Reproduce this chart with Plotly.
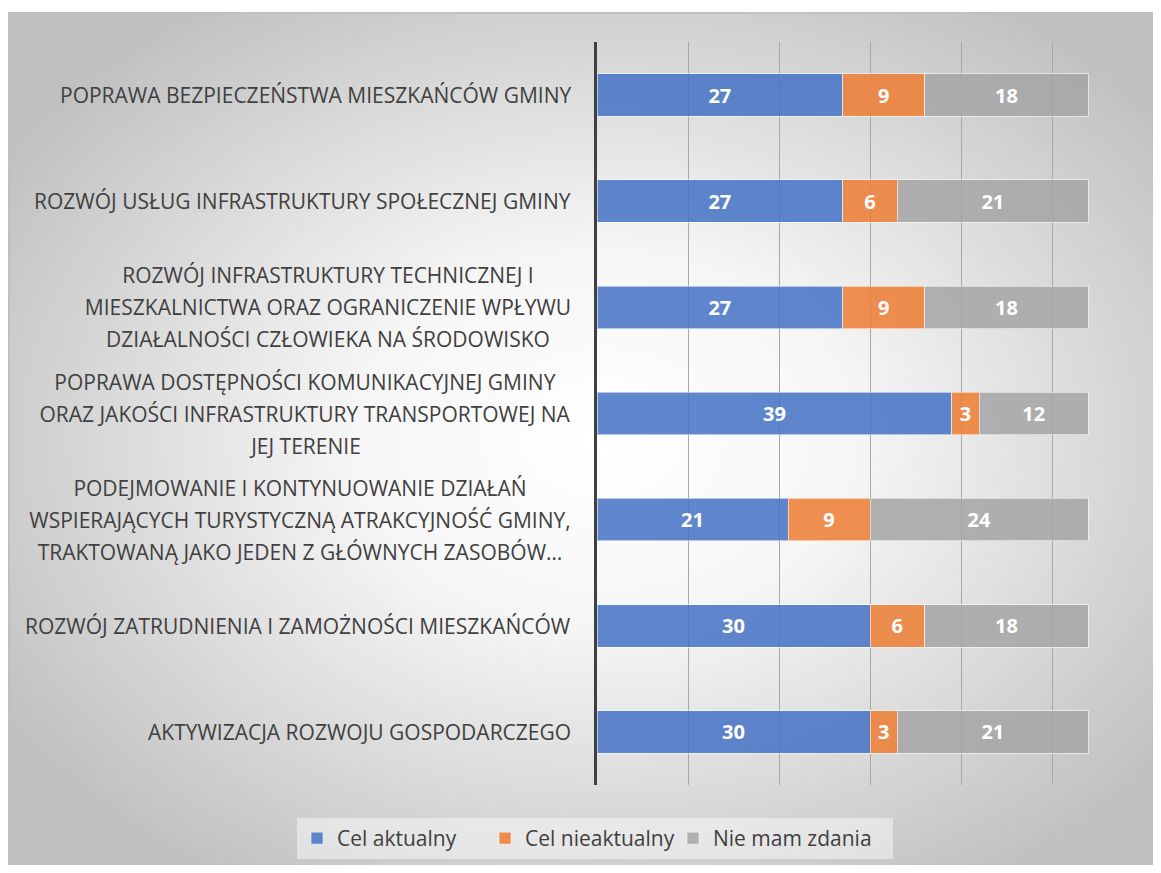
import base64
import plotly.graph_objects as go

categories = [
    "POPRAWA BEZPIECZEŃSTWA MIESZKAŃCÓW GMINY",
    "ROZWÓJ USŁUG INFRASTRUKTURY SPOŁECZNEJ GMINY",
    "ROZWÓJ INFRASTRUKTURY TECHNICZNEJ I<br>MIESZKALNICTWA ORAZ OGRANICZENIE WPŁYWU<br>DZIAŁALNOŚCI CZŁOWIEKA NA ŚRODOWISKO",
    "POPRAWA DOSTĘPNOŚCI KOMUNIKACYJNEJ GMINY<br>ORAZ JAKOŚCI INFRASTRUKTURY TRANSPORTOWEJ NA<br>JEJ TERENIE",
    "PODEJMOWANIE I KONTYNUOWANIE DZIAŁAŃ<br>WSPIERAJĄCYCH TURYSTYCZNĄ ATRAKCYJNOŚĆ GMINY,<br>TRAKTOWANĄ JAKO JEDEN Z GŁÓWNYCH ZASOBÓW…",
    "ROZWÓJ ZATRUDNIENIA I ZAMOŻNOŚCI MIESZKAŃCÓW",
    "AKTYWIZACJA ROZWOJU GOSPODARCZEGO",
]
series_names = ["Cel aktualny", "Cel nieaktualny", "Nie mam zdania"]
cel_aktualny = [27, 27, 27, 39, 21, 30, 30]
cel_nieaktualny = [9, 6, 9, 3, 9, 6, 3]
nie_mam_zdania = [18, 21, 18, 12, 24, 18, 21]
x_ticks = [0, 10, 20, 30, 40, 50, 60]

# text-box widths (px) for the multi-line labels, so their lines stay centred
label_box_width = {2: 492, 3: 538, 4: 548}
legend_entry_widths = [143, 143, 175]

colors = ["rgba(68,114,196,0.85)", "rgba(237,125,49,0.85)", "rgba(165,165,165,0.85)"]

FW, FH = 1145, 857
L, R, T, B = 589, 10, 34, 80
PW, PH = FW - L - R, FH - T - B

LABEL_SIZE = 21
LINE_GAP = 32

fig = go.Figure()
for name, vals, col, lw in zip(series_names, [cel_aktualny, cel_nieaktualny, nie_mam_zdania],
                               colors, legend_entry_widths):
    fig.add_trace(go.Bar(
        y=categories, x=vals, name=name, orientation="h",
        marker=dict(color=col, line=dict(color="rgba(255,255,255,0.55)", width=1)),
        width=0.4, legendwidth=lw,
        text=vals, textposition="inside", insidetextanchor="middle",
        textfont=dict(color="white", size=20, family="Open Sans", weight="bold"),
        constraintext="none", cliponaxis=False,
    ))

svg = (
    '<svg xmlns="http://www.w3.org/2000/svg" width="1145" height="853" preserveAspectRatio="none">'
    '<defs><radialGradient id="g" cx="0.52" cy="0.5" r="0.62" fx="0.52" fy="0.5">'
    '<stop offset="0" stop-color="#ffffff"/>'
    '<stop offset="0.35" stop-color="#f6f6f6"/>'
    '<stop offset="1" stop-color="#c0c0c0"/>'
    '</radialGradient></defs>'
    '<rect x="0" y="0" width="1145" height="853" fill="url(#g)"/>'
    '<line x1="0" y1="1" x2="1145" y2="1" stroke="#c0c0c0" stroke-width="2"/>'
    '<line x1="1" y1="0" x2="1" y2="853" stroke="#c0c0c0" stroke-width="2"/>'
    '</svg>'
)
src = "data:image/svg+xml;base64," + base64.b64encode(svg.encode()).decode()

def px_x(p):
    return (p - L) / PW

def px_y(p):
    return (FH - B - p) / PH

fig.add_layout_image(dict(
    source=src, xref="paper", yref="paper",
    x=px_x(0), y=px_y(4), sizex=FW / PW, sizey=(FH - 4) / PH,
    xanchor="left", yanchor="top", sizing="stretch", layer="below",
))

for k, c in enumerate(categories):
    lines = c.split("<br>")
    n = len(lines)
    for i, ln in enumerate(lines):
        off = i - (n - 1) / 2
        kw = {}
        xs = -24
        if n > 1:
            kw["width"] = label_box_width[k]
            xs = -21
        fig.add_annotation(
            x=0, xref="paper", y=c, yref="y", text=ln, showarrow=False,
            xanchor="right", xshift=xs, align="center",
            yshift=-off * LINE_GAP,
            font=dict(family="Open Sans", size=LABEL_SIZE, color="#404040"),
            **kw,
        )

fig.update_layout(
    width=FW, height=FH,
    margin=dict(l=L, r=R, t=T, b=B, autoexpand=False),
    barmode="stack",
    paper_bgcolor="white",
    plot_bgcolor="rgba(0,0,0,0)",
    showlegend=True,
    legend=dict(
        orientation="h", xref="paper", yref="paper",
        x=px_x(289), xanchor="left", y=px_y(810), yanchor="top",
        bgcolor="rgba(255,255,255,0.45)", borderwidth=0,
        font=dict(family="Open Sans", size=21, color="#404040"),
        itemwidth=30, traceorder="normal",
        entrywidthmode="pixels",
    ),
    xaxis=dict(
        range=[0, 60], tickvals=x_ticks, showticklabels=False,
        showgrid=True, gridcolor="#a8a8a8", gridwidth=1, zeroline=False,
        showline=False, fixedrange=True,
    ),
    yaxis=dict(
        categoryorder="array", categoryarray=categories, autorange="reversed",
        showticklabels=False, showgrid=False, zeroline=False,
        showline=True, linecolor="#404040", linewidth=3,
    ),
)

fig.write_html("out.html")
